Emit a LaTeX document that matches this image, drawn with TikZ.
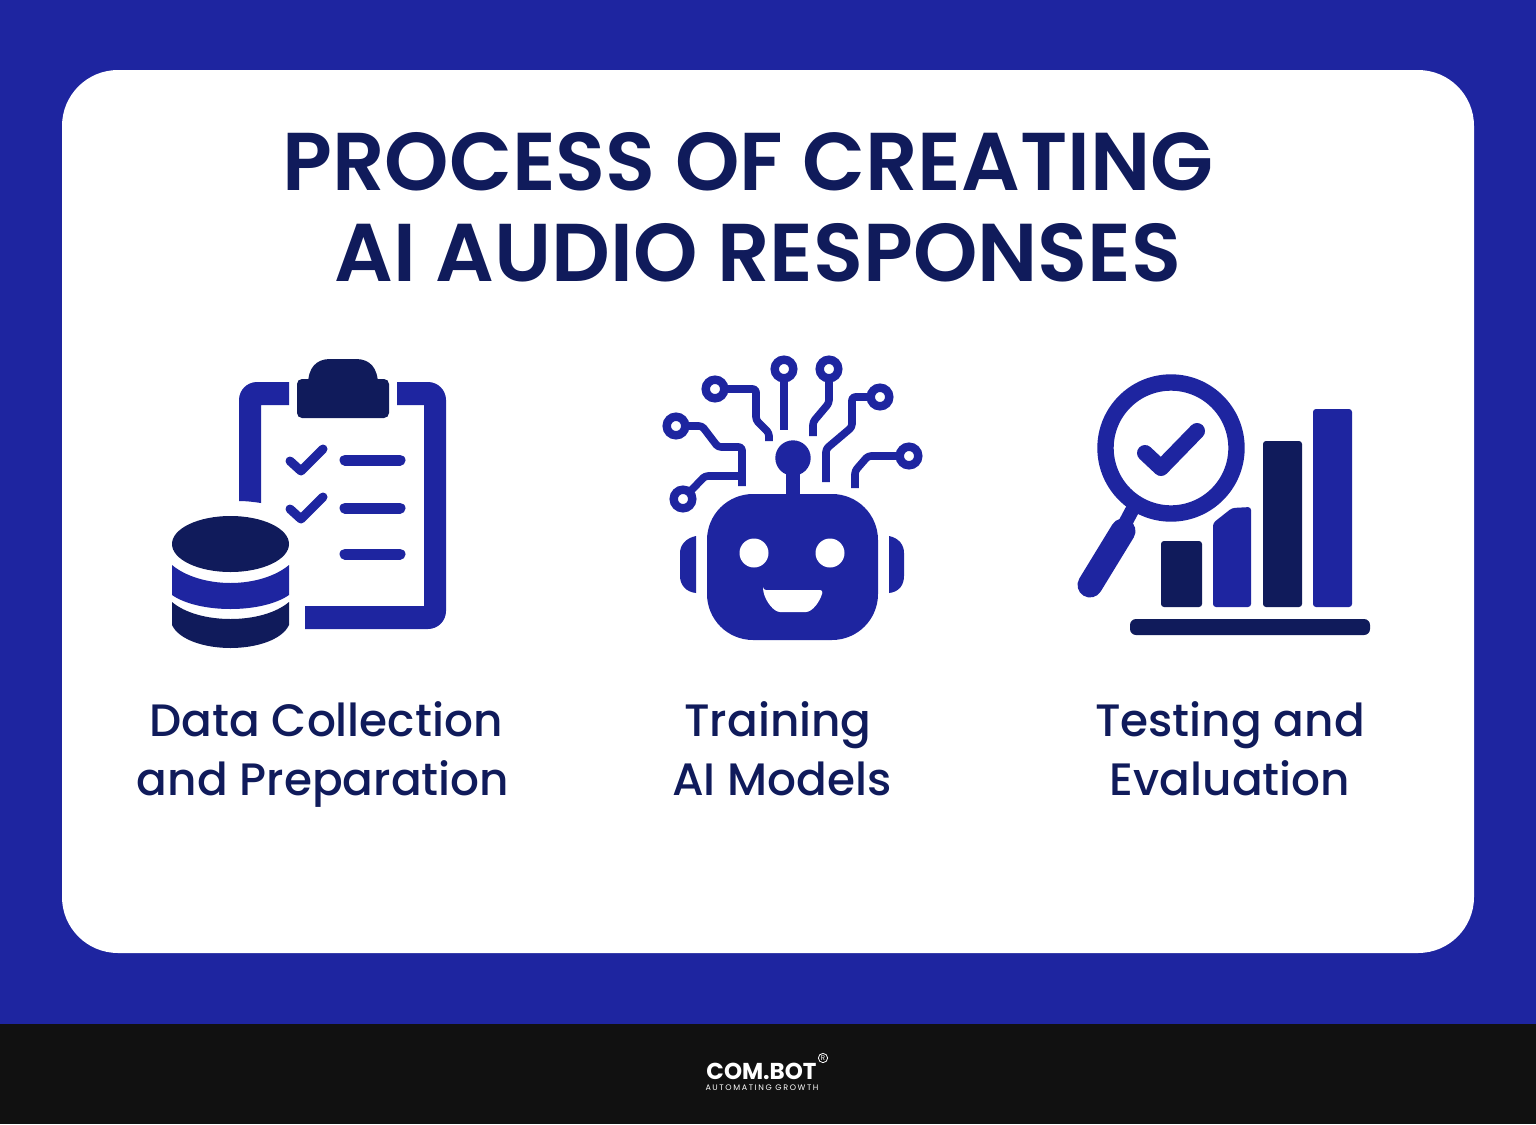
\documentclass[tikz,border=0pt]{standalone}
\usepackage{fontspec}
\setmainfont{Poppins}
\newfontfamily\titlefont{Poppins SemiBold}
\newfontfamily\labelfont{Poppins Medium}
\newfontfamily\logofont{Poppins}[BoldFont=* Bold]
\newfontfamily\logosub{Poppins}[LetterSpace=20]
\definecolor{bluebg}{HTML}{1E25A0}
\definecolor{navy}{HTML}{101B5B}
\definecolor{blackband}{HTML}{111111}
\tikzset{
 titletext/.style={anchor=base,inner sep=0pt,text=navy,font=\titlefont\fontsize{41}{41}\selectfont},
 labeltext/.style={anchor=base,inner sep=0pt,text=navy,font=\labelfont\fontsize{22.7}{24}\selectfont},
 trace/.style={draw=bluebg,line width=3.8pt,line join=round,rounded corners=1.5pt},
 ring/.style={draw=bluebg,line width=4.2pt,fill=white},
 checkmark/.style={draw=bluebg,line cap=round,line join=round},
 rowline/.style={draw=bluebg,line width=5.5pt,line cap=round},
}
\begin{document}
\begin{tikzpicture}[x=0.5pt,y=-0.5pt]
\useasboundingbox (0,0) rectangle (1536,1124);
\fill[bluebg] (0,0) rectangle (1536,1024);
\fill[blackband] (0,1024) rectangle (1536,1124);
\fill[white,rounded corners=28pt] (62,70) rectangle (1474,953);
\node[titletext] (t1) at (748,190) {PROCESS OF CREATING};
\node[titletext] (t2) at (758,281) {AI AUDIO RESPONSES};
% clipboard
\fill[bluebg] (289,382) -- (257,382) arc[start angle=270,end angle=180,radius=18] -- (239,501) .. controls (247,501) and (254,502) .. (261,503) -- (261,405) -- (289,405) -- cycle;
\fill[bluebg] (397,382) -- (428,382) arc[start angle=-90,end angle=0,radius=18] -- (446,611) arc[start angle=0,end angle=90,radius=18] -- (305,629) -- (305,606) -- (424,606) -- (424,405) -- (397,405) -- cycle;
\fill[navy,rounded corners=2.5pt] (297,379) rectangle (389,418);
\fill[navy] (308,385) .. controls (308,368) and (316,359) .. (330,359) -- (356,359) .. controls (370,359) and (378,368) .. (378,385) -- cycle;
\draw[checkmark,line width=4.5pt] (290,461) -- (301,471) -- (323,449);
\draw[checkmark,line width=4.5pt] (290,509) -- (301,519) -- (323,497);
\draw[rowline] (345,460) -- (400,460);
\draw[rowline] (345,508) -- (400,508);
\draw[rowline] (345,554) -- (400,554);
% database
\fill[navy] (230.5,544) ellipse[x radius=58.5,y radius=28];
\fill[bluebg] (172,565) .. controls (185,576) and (207,583) .. (230.5,583) .. controls (254,583) and (276,576) .. (289,565) -- (289,595) .. controls (276,604) and (254,609) .. (230.5,609) .. controls (207,609) and (185,604) .. (172,595) -- cycle;
\fill[navy] (172,602) .. controls (185,613) and (207,619) .. (230.5,619) .. controls (254,619) and (276,613) .. (289,602) -- (289,625) .. controls (282,640) and (256,648) .. (230.5,648) .. controls (205,648) and (179,640) .. (172,625) -- cycle;
% robot
\fill[bluebg,rounded corners=23pt] (707,494) rectangle (878,640);
\fill[bluebg] (786,470) rectangle (800,500);
\fill[bluebg] (793,458) circle[radius=17.7];
\fill[white] (754,553) circle[radius=14.5];
\fill[white] (830,553) circle[radius=14.5];
\fill[white,rounded corners=1.5pt] (763,590) -- (823,590) .. controls (820,602) and (812,612) .. (803,612) -- (783,612) .. controls (774,612) and (766,602) .. (763,590) -- cycle;
\fill[bluebg] (696,536) .. controls (686,538) and (680,545) .. (680,553) -- (680,576) .. controls (680,585) and (686,592) .. (696,593) -- cycle;
\fill[bluebg] (889,536) .. controls (899,538) and (904,545) .. (904,553) -- (904,576) .. controls (904,585) and (899,592) .. (889,593) -- cycle;
\draw[trace] (715,389) -- (756,389) -- (756,420) -- (769,433) -- (769,441);
\draw[trace] (784,369) -- (784,430);
\draw[trace] (829,369) -- (829,403) -- (813,422) -- (813,436);
\draw[trace] (880,397) -- (852,397) -- (852,427) -- (826,449) -- (826,482);
\draw[trace] (909,456) -- (868,456) -- (855,471) -- (855,488);
\draw[trace] (676,426) -- (702,426) -- (718,447) -- (742,447) -- (742,486);
\draw[trace] (683,499) -- (705,476) -- (742,476);
\foreach \cx/\cy in {715/389,784/369,829/369,880/397,909/456,676/426,683/499}
  \draw[ring] (\cx,\cy) circle[radius=9.3];
% magnifier
\draw[bluebg,line width=7pt] (1137,501) -- (1120,533);
\draw[bluebg,line width=12.5pt,line cap=round] (1123,531) -- (1090,585);
\draw[bluebg,line width=8.2pt] (1171,448) circle[radius=65.5];
\draw[checkmark,line width=8pt] (1145,453) -- (1161,468) -- (1197,431);
% bars
\fill[navy,rounded corners=1.5pt] (1161,541) rectangle (1202,607);
\fill[bluebg,rounded corners=1.5pt] (1213,607) -- (1213,523) -- (1232,508) -- (1251,507) -- (1251,607) -- cycle;
\fill[navy,rounded corners=1.5pt] (1263,441) rectangle (1302,607);
\fill[bluebg,rounded corners=1.5pt] (1313,409) rectangle (1352,607);
\fill[navy,rounded corners=3pt] (1130,619) rectangle (1370,635);
% labels
\node[labeltext] (a1) at (326,736) {Data Collection};
\node[labeltext] (a2) at (323,795) {and Preparation};
\node[labeltext] (b1) at (778,736) {Training};
\node[labeltext] (b2) at (782,795) {AI Models};
\node[labeltext] (c1) at (1230,736) {Testing and};
\node[labeltext] (c2) at (1230,795) {Evaluation};
% logo
\node[anchor=base,inner sep=0pt,text=white,font=\logofont\bfseries\fontsize{11.5}{12}\selectfont] (l1) at (761.5,1079.5) {COM.BOT};
\node[anchor=base,inner sep=0pt,text=white,font=\logosub\fontsize{4}{4}\selectfont] (l2) at (762,1090) {AUTOMATING GROWTH};
\node[circle,draw=white,line width=0.4pt,inner sep=0.5pt,text=white,font=\logofont\fontsize{3.5}{3.5}\selectfont] (l3) at (823,1058) {R};
\end{tikzpicture}
\end{document}
